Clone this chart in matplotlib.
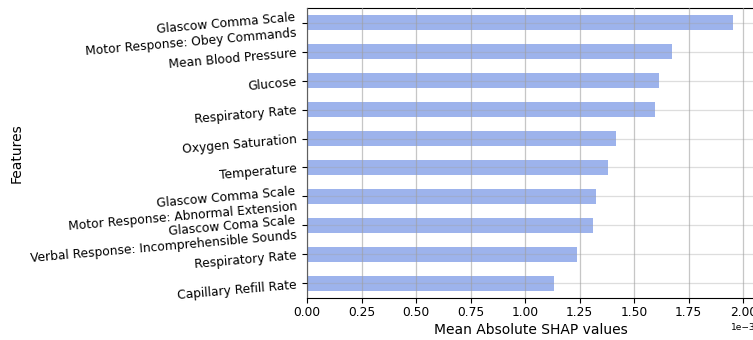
import matplotlib
matplotlib.use("Agg")
import matplotlib.pyplot as plt
import numpy as np

# mean |SHAP| per feature, top to bottom
features = [
    "Glascow Comma Scale\nMotor Response: Obey Commands",
    "Mean Blood Pressure",
    "Glucose",
    "Respiratory Rate",
    "Oxygen Saturation",
    "Temperature",
    "Glascow Comma Scale\nMotor Response: Abnormal Extension",
    "Glascow Coma Scale\nVerbal Response: Incomprehensible Sounds",
    "Respiratory Rate",
    "Capillary Refill Rate",
]
shap_values = [1.955e-3, 1.675e-3, 1.615e-3, 1.596e-3, 1.417e-3,
               1.380e-3, 1.325e-3, 1.311e-3, 1.237e-3, 1.131e-3]

fig = plt.figure(figsize=(7.53, 3.4), dpi=100)
ax = fig.add_axes([0.408, 0.124, 0.595, 0.852])

pos = np.arange(len(features))[::-1]
ax.barh(pos, shap_values, height=0.5, color="#9db3ec")
ax.set_ylim(-0.5, len(features) - 0.5)
ax.set_xlim(0, 2.055e-3)

ax.set_axisbelow(False)
ax.grid(axis="x", color="#a0a0a0", alpha=0.6, linewidth=0.9)
ax.grid(axis="y", color="#a0a0a0", alpha=0.35, linewidth=0.9)

ax.set_yticks(pos)
ax.set_yticklabels(features, rotation=5, fontsize=8.8)
ax.ticklabel_format(axis="x", style="sci", scilimits=(0, 0))
ax.tick_params(axis="x", labelsize=8.8, pad=2.5)
ax.xaxis.get_offset_text().set_fontsize(6.5)
ax.set_xlabel("Mean Absolute SHAP values", fontsize=10, labelpad=3)
ax.set_ylabel("Features", fontsize=10)

fig.savefig("out.png", dpi=100)
